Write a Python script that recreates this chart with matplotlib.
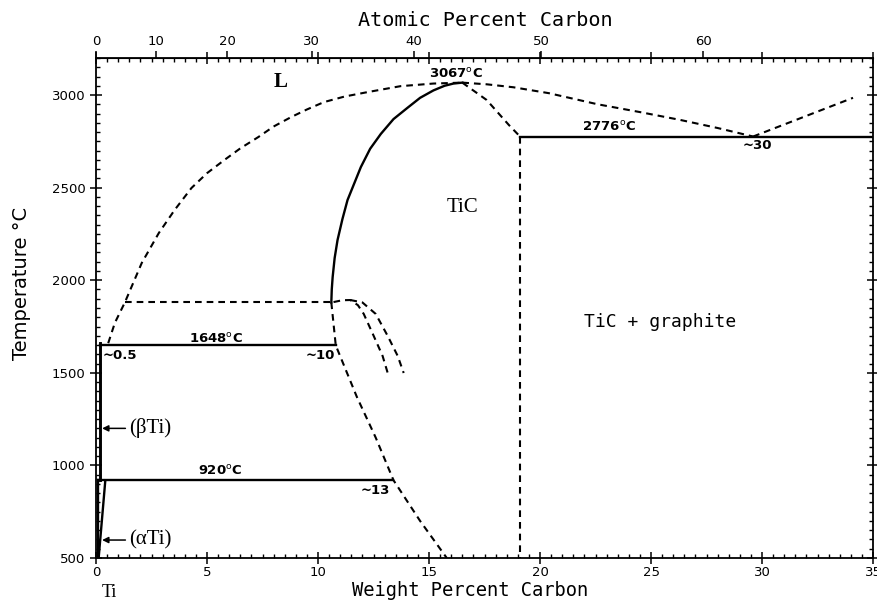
import numpy as np
import matplotlib.pyplot as plt
from matplotlib.ticker import MultipleLocator

# all compositions in weight percent carbon, temperatures in deg C
liq_left_wt = [0.55, 0.85, 1.30, 2.06, 2.83, 3.54, 4.30, 5.0, 5.78, 6.5, 7.31, 8.0, 8.79, 9.5,
               10.27, 11.2, 12.24, 13.72, 15.2, 16.5]
liq_left_T = [1660, 1770, 1880, 2093, 2255, 2379, 2498, 2578, 2649, 2712, 2773, 2830, 2881, 2922,
              2962, 2992, 3016, 3048, 3062, 3067]

liq_right_wt = [16.5, 17.6, 18.8, 20.4, 22.6, 24.5, 26.3, 28.0, 29.6]
liq_right_T = [3067, 3058, 3042, 3010, 2950, 2908, 2866, 2822, 2776]

graphite_liq_wt = [29.6, 34.1]
graphite_liq_T = [2776, 2985]

tic_left_wt = [10.6, 10.62, 10.66, 10.75, 10.88, 11.1, 11.33, 11.93, 12.35, 12.83, 13.4, 14.02,
               14.6, 15.2, 15.7, 16.1, 16.5]
tic_left_T = [1880, 1950, 2017, 2120, 2217, 2330, 2433, 2611, 2710, 2790, 2870, 2930,
              2985, 3025, 3050, 3062, 3067]

tic_right_wt = [16.5, 17.6, 18.6, 19.1]
tic_right_T = [3067, 2973, 2838, 2776]

tic_lower_wt = [10.6, 10.8, 11.75, 12.6, 13.4, 14.6, 15.8]
tic_lower_T = [1880, 1648, 1370, 1150, 920, 700, 500]

arc1_wt = [10.7, 11.1, 11.46, 11.8, 12.06, 12.51, 12.91, 13.14]
arc1_T = [1882, 1892, 1893, 1865, 1818, 1699, 1591, 1499]
arc2_wt = [11.46, 12.0, 12.6, 13.14, 13.59, 13.86]
arc2_T = [1893, 1880, 1818, 1699, 1591, 1499]

tic_eq_wt = 19.1
peritectic_T = 1880
eutectic_ti_T = 1648
eutectoid_T = 920
eutectic_c_T = 2776

beta_wt = [0.2, 0.2]
beta_T = [1660, 920]
alpha_wt = [0.42, 0.12]
alpha_T = [920, 500]

M_C, M_TI = 12.011, 47.867


def wt_to_at(w):
    w = np.clip(np.asarray(w, dtype=float), 0, 99.9)
    c = w / M_C
    return 100 * c / (c + (100 - w) / M_TI)


def at_to_wt(a):
    a = np.clip(np.asarray(a, dtype=float), 0, 99.9)
    return 100 * a * M_C / (a * M_C + (100 - a) * M_TI)


fig = plt.figure(figsize=(8.77, 6.01), dpi=100)
ax = fig.add_axes([96 / 877, 1 - 558 / 601, 777 / 877, 500 / 601])

dash = (0, (3.2, 2.4))
lw_s, lw_d = 1.7, 1.5

ax.plot(liq_left_wt, liq_left_T, 'k', ls=dash, lw=lw_d)
ax.plot(liq_right_wt, liq_right_T, 'k', ls=dash, lw=lw_d)
ax.plot(graphite_liq_wt, graphite_liq_T, 'k', ls=dash, lw=lw_d)
ax.plot(tic_left_wt, tic_left_T, 'k', lw=lw_s)
ax.plot(tic_right_wt, tic_right_T, 'k', ls=dash, lw=lw_d)
ax.plot(tic_lower_wt, tic_lower_T, 'k', ls=dash, lw=lw_d)
ax.plot(arc1_wt, arc1_T, 'k', ls=dash, lw=lw_d)
ax.plot(arc2_wt, arc2_T, 'k', ls=dash, lw=lw_d)
ax.plot([tic_eq_wt, tic_eq_wt], [eutectic_c_T, 500], 'k', ls=dash, lw=lw_d)

ax.plot([1.3, 10.6], [peritectic_T] * 2, 'k', ls=dash, lw=lw_d)
ax.plot([0.2, 10.8], [eutectic_ti_T] * 2, 'k', lw=lw_s)
ax.plot([0.1, 13.4], [eutectoid_T] * 2, 'k', lw=lw_s)
ax.plot([tic_eq_wt, 35], [eutectic_c_T] * 2, 'k', lw=lw_s)
ax.plot(beta_wt, beta_T, 'k', lw=lw_s + 0.4)
ax.plot(alpha_wt, alpha_T, 'k', lw=lw_s)
ax.plot([0.1, 0.1], [500, 920], 'k', lw=lw_s)

ax.set_xlim(0, 35)
ax.set_ylim(500, 3200)
ax.set_xticks(range(0, 36, 5))
ax.set_yticks(range(500, 3001, 500))
ax.xaxis.set_minor_locator(MultipleLocator(0.5))
ax.yaxis.set_minor_locator(MultipleLocator(50))
ax.tick_params(which='major', direction='inout', length=8, width=1.1,
               labelsize=9.5, top=True, right=True)
ax.tick_params(which='minor', direction='in', length=3, width=1,
               top=True, right=True)
ax.tick_params(axis='x', which='major', pad=2)
for s in ax.spines.values():
    s.set_linewidth(1.3)

sec = ax.secondary_xaxis('top', functions=(wt_to_at, at_to_wt))
sec.set_xticks(range(0, 61, 10))
sec.tick_params(direction='out', length=5, width=1.1, labelsize=9.5, pad=2)

serif = 'Liberation Serif'
mono = 'DejaVu Sans Mono'
ax.text(8.3, 3070, 'L', family=serif, fontsize=15, fontweight='bold', ha='center', va='center')
ax.text(16.5, 2390, 'TiC', family=serif, fontsize=15, ha='center', va='center')
ax.text(25.4, 1775, 'TiC + graphite', family=mono, fontsize=13, ha='center', va='center')
ax.text(16.2, 3113, '3067$^{\\rm o}$C', fontsize=9.5, fontweight='bold', ha='center', va='center')
ax.text(23.1, 2827, '2776$^{\\rm o}$C', fontsize=9.5, fontweight='bold', ha='center', va='center')
ax.text(29.8, 2730, '~30', fontsize=9.5, fontweight='bold', ha='center', va='center')
ax.text(5.4, 1683, '1648$^{\\rm o}$C', fontsize=9.5, fontweight='bold', ha='center', va='center')
ax.text(0.3, 1596, '~0.5', fontsize=9.5, fontweight='bold', ha='left', va='center')
ax.text(10.1, 1596, '~10', fontsize=9.5, fontweight='bold', ha='center', va='center')
ax.text(5.6, 970, '920$^{\\rm o}$C', fontsize=9.5, fontweight='bold', ha='center', va='center')
ax.text(12.6, 867, '~13', fontsize=9.5, fontweight='bold', ha='center', va='center')

for T, name in [(1200, '(\u03b2Ti)'), (597, '(\u03b1Ti)')]:
    ax.annotate('', xy=(0.15, T), xytext=(1.45, T),
                arrowprops=dict(arrowstyle='-|>', color='black', lw=1.1, mutation_scale=9))
    ax.text(1.5, T, name, family=serif, fontsize=15, ha='left', va='center')

ax.text(0.6, 316, 'Ti', family=serif, fontsize=13, ha='center', va='center', clip_on=False)

fig.text(470 / 877, 1 - 590 / 601, 'Weight Percent Carbon', family=mono, fontsize=13.5,
         ha='center', va='center')
fig.text(485 / 877, 1 - 20 / 601, 'Atomic Percent Carbon', family=mono, fontsize=14.5,
         ha='center', va='center')
fig.text(22 / 877, 1 - 283 / 601, 'Temperature \u00b0C', fontsize=14, rotation=90,
         ha='center', va='center')

fig.savefig('out.png', dpi=100)
